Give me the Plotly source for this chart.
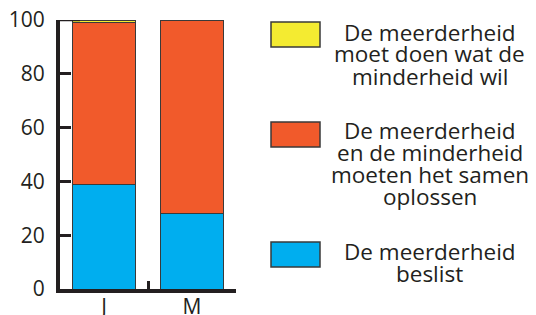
import plotly.graph_objects as go

categories = ["J", "M"]
blue_vals = [39, 28]
orange_vals = [60, 72]
yellow_vals = [1, 0]
series_names = [
    "De meerderheid beslist",
    "De meerderheid en de minderheid moeten het samen oplossen",
    "De meerderheid moet doen wat de minderheid wil",
]
legend_lines = [
    ["De meerderheid", "moet doen wat de", "minderheid wil"],
    ["De meerderheid", "en de minderheid", "moeten het samen", "oplossen"],
    ["De meerderheid", "beslist"],
]
y_ticks = [0, 20, 40, 60, 80, 100]

BLUE = "#00AEEF"
ORANGE = "#F15A2B"
YELLOW = "#F4EB31"
EDGE = "#3a3a3a"
TXT = "#231F20"
FONT = "Open Sans"

OFF = 8  # page offset of the figure inside the window
W, H = 536, 315
ML, MT = 60 - OFF, 20 - OFF
MR = W - (236 - OFF)
MB = H - (289 - OFF)
PW, PH = W - ML - MR, H - MT - MB

def px(x):
    return (x - OFF - ML) / PW

def py(y):
    return (H - MB - (y - OFF)) / PH

fig = go.Figure()
for name, vals, col in [(series_names[0], blue_vals, BLUE),
                        (series_names[1], orange_vals, ORANGE),
                        (series_names[2], yellow_vals, YELLOW)]:
    fig.add_trace(go.Bar(x=categories, y=vals, name=name, width=0.72,
                         marker=dict(color=col, line=dict(color=EDGE, width=1)),
                         showlegend=False, cliponaxis=False))

shapes = []
# top tick at 100
shapes.append(dict(type="line", xref="paper", yref="y", x0=px(58), x1=px(80), y0=100, y1=100,
                   line=dict(color=TXT, width=2.5)))
# legend swatches
sw_cols = [YELLOW, ORANGE, BLUE]
sw_tops = [22, 122, 242]
for col, top in zip(sw_cols, sw_tops):
    shapes.append(dict(type="rect", xref="paper", yref="paper",
                       x0=px(271), x1=px(320), y0=py(top + 25), y1=py(top),
                       fillcolor=col, line=dict(color=EDGE, width=1.5)))

annotations = []
baselines = [[43, 65, 87], [141, 163, 185, 207], [262, 284]]
for lines, bls in zip(legend_lines, baselines):
    for t, b in zip(lines, bls):
        annotations.append(dict(text=t, xref="paper", yref="paper", x=px(430), y=py(b - 11),
                                xanchor="center", yanchor="middle", showarrow=False,
                                font=dict(family=FONT, size=22.5, color=TXT)))

fig.update_layout(
    barmode="stack",
    width=W, height=H,
    margin=dict(l=ML, r=MR, t=MT, b=MB, pad=0, autoexpand=False),
    paper_bgcolor="white", plot_bgcolor="white",
    shapes=shapes,
    annotations=annotations,
    xaxis=dict(range=[-0.5, 1.5], showline=True, linecolor=TXT, linewidth=3.5,
               ticks="inside", tickson="boundaries", ticklen=8, tickwidth=2.5, tickcolor=TXT,
               tickfont=dict(family=FONT, size=21, color=TXT), showgrid=False, zeroline=False,
               ticklabelstandoff=-4, automargin=False, ticklabeloverflow="allow"),
    yaxis=dict(range=[0, 100], tickvals=y_ticks, showline=True, linecolor=TXT, linewidth=4,
               ticks="inside", ticklen=11, tickwidth=3, tickcolor=TXT,
               tickfont=dict(family=FONT, size=21, color=TXT), showgrid=False, zeroline=False,
               ticklabelstandoff=7, automargin=False, ticklabeloverflow="allow"),
)

fig.write_html("out.html")
